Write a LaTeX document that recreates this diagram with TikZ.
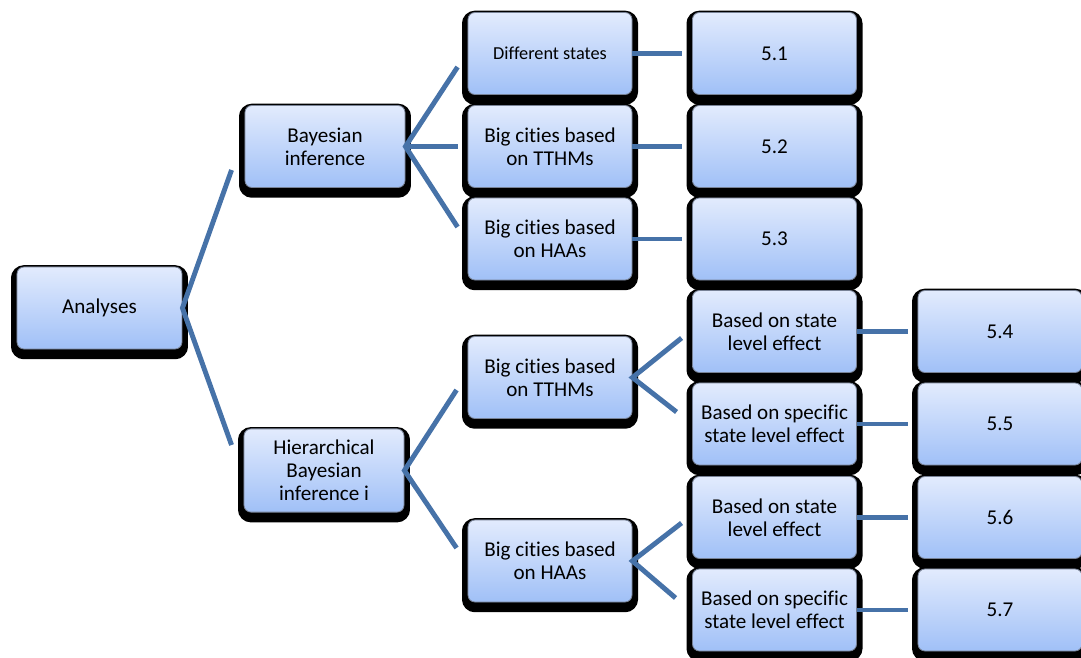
\documentclass[tikz,border=0pt]{standalone}
\usepackage{fontspec}
\setmainfont{Carlito}[Ligatures=NoCommon]
\usetikzlibrary{calc}
\definecolor{linkblue}{RGB}{70,114,168}
\definecolor{boxtop}{RGB}{226,235,253}
\definecolor{boxbot}{RGB}{160,192,247}
\definecolor{boxline}{RGB}{120,130,150}

\begin{document}
\begin{tikzpicture}[x=0.025cm,y=-0.025cm,
	box/.style={rectangle, rounded corners=5pt, draw=boxline, line width=0.6pt,
		top color=boxtop, bottom color=boxbot, align=center,
		minimum width=4.1cm, minimum height=2.05cm, inner sep=2pt,
		font=\fontsize{15}{16.5}\selectfont,
		preaction={fill=black, draw=black, line width=8.5pt, rounded corners=5pt,
			transform canvas={yshift=-3pt}}},
	link/.style={draw=linkblue, line width=3.5pt}]
			\useasboundingbox (0,0) rectangle (1081,658);
			\node[box, minimum width=4.125cm] (ana) at (99.5,308) {Analyses};
			\node[box, minimum width=4cm] (bay) at (325,146.5) {Bayesian\\inference};
			\node[box, minimum width=4cm, minimum height=2.08cm] (hier) at (324,470.5) {Hierarchical\\Bayesian\\inference i};
			\node[box, font=\fontsize{13}{15}\selectfont] (diff) at (550,53.5) {Different states};
			\node[box] (tthma) at (550,146.5) {Big cities based\\on TTHMs};
			\node[box] (haaa) at (550,239) {Big cities based\\on HAAs};
			\node[box] (tthmb) at (550,377.5) {Big cities based\\on TTHMs};
			\node[box] (haab) at (550,561) {Big cities based\\on HAAs};
			\node[box] (r51) at (774.5,53.5) {5.1};
			\node[box] (r52) at (774.5,146.5) {5.2};
			\node[box] (r53) at (774.5,239) {5.3};
			\node[box] (sta) at (774.5,331.5) {Based on state\\level effect};
			\node[box] (spa) at (774.5,424) {Based on specific\\state level effect};
			\node[box] (stb) at (774.5,517.5) {Based on state\\level effect};
			\node[box] (spb) at (774.5,610) {Based on specific\\state level effect};
			\node[box] (r54) at (1000,331.5) {5.4};
			\node[box] (r55) at (1000,424) {5.5};
			\node[box] (r56) at (1000,517.5) {5.6};
			\node[box] (r57) at (1000,610) {5.7};
			\draw[link] ($(bay.west)+(-13,23.5)$) -- (ana.east) -- ($(hier.west)+(-12,-25.5)$);
			\draw[link] ($(diff.west)+(-10,13.5)$) -- (bay.east) -- ($(haaa.west)+(-10,-12)$);
			\draw[link] (bay.east) -- ($(tthma.west)+(-10,0)$);
			\draw[link] ($(tthmb.west)+(-11,12.5)$) -- (hier.east) -- ($(haab.west)+(-11,-13)$);
			\draw[link] ($(sta.west)+(-10.5,6.5)$) -- (tthmb.east) -- ($(spa.west)+(-15.5,-12)$);
			\draw[link] ($(stb.west)+(-10.5,5.5)$) -- (haab.east) -- ($(spb.west)+(-16.5,-12)$);
			\foreach \from/\to in {diff/r51, tthma/r52, haaa/r53, sta/r54, spa/r55, stb/r56, spb/r57}
				\draw[link] (\from.east) -- ($(\to.west)+(-10,0)$);
\end{tikzpicture}
\end{document}
